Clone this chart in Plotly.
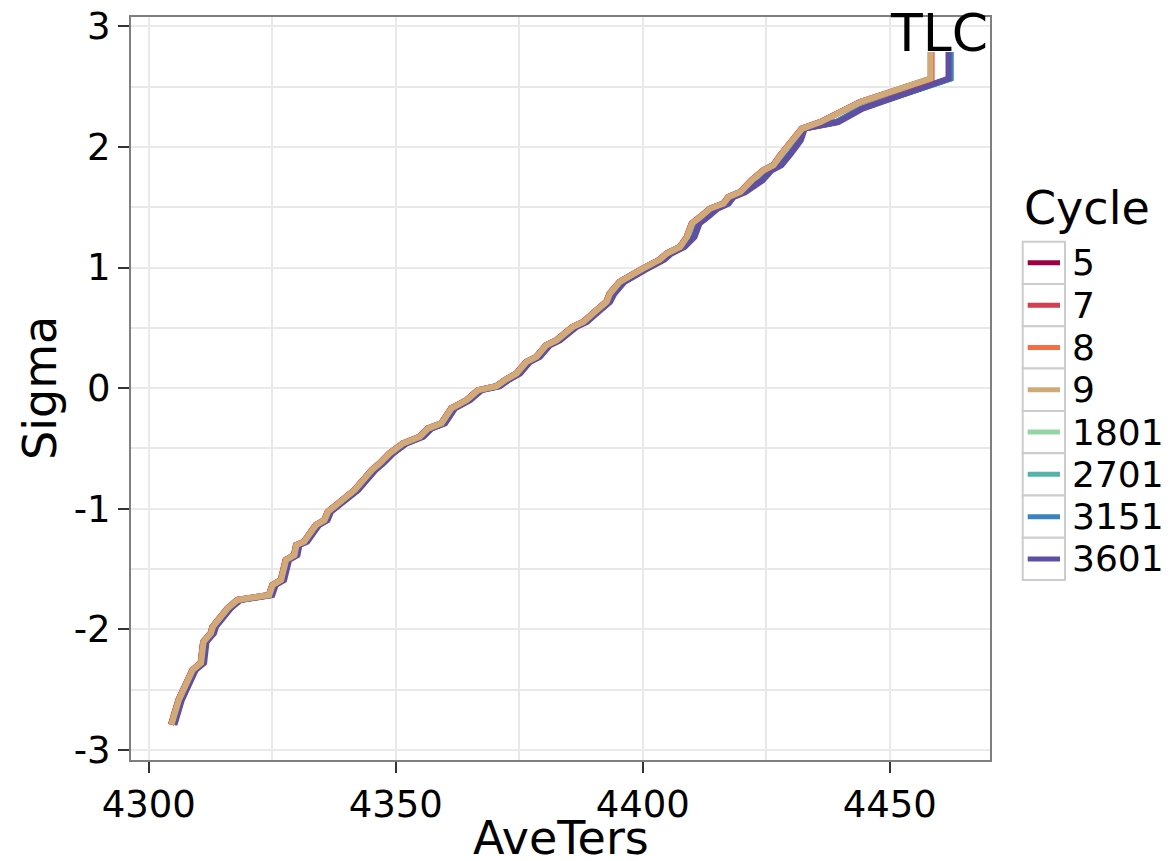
import plotly.graph_objects as go

# normal quantile positions (sigma) shared by every cycle
sigma = [-2.79, -2.585, -2.337, -2.278, -2.102, -2.032, -1.978, -1.825, -1.756, -1.715,
         -1.632, -1.591, -1.425, -1.384, -1.301, -1.273, -1.191, -1.135, -1.094, -1.025,
         -0.969, -0.911, -0.845, -0.746, -0.679, -0.624, -0.541, -0.458, -0.403, -0.334,
         -0.292, -0.168, -0.099, -0.017, 0.017, 0.066, 0.122, 0.218, 0.259, 0.356,
         0.398, 0.508, 0.549, 0.646, 0.715, 0.785, 0.881, 0.978, 1.066, 1.116,
         1.171, 1.254, 1.365, 1.419, 1.489, 1.530, 1.585, 1.626, 1.723, 1.806,
         1.848, 1.944, 2.055, 2.152, 2.206, 2.276, 2.317, 2.372, 2.566, 2.786]

# AveTers for cycles 5, 7, 8 (overlapping, practically identical)
ave_early = [4304.5, 4306.0, 4308.8, 4310.5, 4311.0, 4312.5, 4312.9, 4315.9, 4317.9, 4324.3,
             4325.0, 4326.7, 4327.7, 4329.4, 4329.8, 4331.4, 4332.8, 4333.8, 4335.5, 4336.2,
             4337.9, 4339.6, 4341.6, 4343.7, 4345.1, 4346.7, 4348.7, 4351.4, 4354.8, 4356.5,
             4359.2, 4361.2, 4364.3, 4366.6, 4370.3, 4372.0, 4374.4, 4376.4, 4378.4, 4380.4,
             4382.5, 4385.8, 4387.9, 4390.6, 4392.6, 4393.3, 4395.3, 4399.4, 4403.4, 4404.8,
             4407.5, 4408.9, 4409.9, 4411.6, 4413.6, 4416.3, 4417.3, 4419.7, 4422.0, 4424.4,
             4426.4, 4428.1, 4430.1, 4432.2, 4435.9, 4439.2, 4441.3, 4444.0, 4458.4, 4458.4]

ave_9 = [4304.6, 4306.1, 4308.9, 4310.6, 4311.1, 4312.6, 4313.0, 4316.0, 4318.0, 4324.4,
         4325.1, 4326.8, 4327.8, 4329.5, 4329.9, 4331.5, 4332.9, 4333.9, 4335.6, 4336.3,
         4338.0, 4339.7, 4341.7, 4343.8, 4345.2, 4346.8, 4348.8, 4351.5, 4354.9, 4356.6,
         4359.3, 4361.3, 4364.4, 4366.7, 4370.4, 4372.1, 4374.5, 4376.5, 4378.5, 4380.5,
         4382.6, 4385.9, 4388.0, 4390.7, 4392.7, 4393.4, 4395.4, 4399.5, 4403.5, 4404.9,
         4407.6, 4409.0, 4410.0, 4411.7, 4413.7, 4416.4, 4417.4, 4419.8, 4422.1, 4424.5,
         4426.5, 4428.2, 4430.2, 4432.3, 4436.0, 4439.3, 4441.4, 4444.1, 4458.2, 4458.2]

# AveTers for cycles 1801, 2701, 3151 (hidden under 3601)
ave_late = [4305.0, 4306.5, 4309.3, 4311.0, 4311.5, 4313.0, 4313.4, 4316.4, 4318.4, 4324.8,
            4325.5, 4327.2, 4328.2, 4329.9, 4330.3, 4331.9, 4333.3, 4334.3, 4336.0, 4336.7,
            4338.4, 4340.2, 4342.2, 4344.3, 4345.7, 4347.3, 4349.3, 4352.0, 4355.4, 4357.1,
            4359.8, 4361.8, 4364.9, 4367.2, 4370.9, 4372.6, 4375.0, 4377.0, 4379.0, 4381.0,
            4383.1, 4386.4, 4388.5, 4391.2, 4393.2, 4394.1, 4396.1, 4400.2, 4404.2, 4405.6,
            4408.3, 4410.3, 4411.3, 4413.0, 4415.0, 4417.2, 4418.2, 4420.6, 4424.1, 4425.9,
            4427.9, 4429.8, 4431.8, 4432.6, 4439.2, 4442.3, 4444.2, 4448.1, 4462.3, 4462.3]

ave_3601 = [4305.2, 4306.7, 4309.5, 4311.2, 4311.7, 4313.2, 4313.6, 4316.6, 4318.6, 4325.0,
            4325.7, 4327.4, 4328.4, 4330.1, 4330.5, 4332.1, 4333.5, 4334.5, 4336.2, 4336.9,
            4338.6, 4340.4, 4342.4, 4344.5, 4345.9, 4347.5, 4349.5, 4352.2, 4355.6, 4357.3,
            4360.0, 4362.0, 4365.1, 4367.4, 4371.1, 4372.8, 4375.2, 4377.2, 4379.2, 4381.2,
            4383.3, 4386.6, 4388.7, 4391.4, 4393.4, 4394.3, 4396.3, 4400.4, 4404.4, 4405.8,
            4408.5, 4410.5, 4411.5, 4413.2, 4415.2, 4417.4, 4418.4, 4420.8, 4424.3, 4426.1,
            4428.1, 4430.0, 4432.0, 4432.8, 4439.6, 4442.7, 4444.5, 4448.4, 4461.9, 4461.9]

cycles = ['5', '7', '8', '9', '1801', '2701', '3151', '3601']
colors = ['#9e0142', '#d53e4f', '#f46d43', '#cfab7a', '#93d5a4', '#55b3a8', '#3a83c0', '#5e4fa2']
cycle_x = {'5': ave_early, '7': ave_early, '8': ave_early, '9': ave_9,
           '1801': ave_late, '2701': ave_late, '3151': ave_late, '3601': ave_3601}

x_ticks = [4300, 4350, 4400, 4450]
y_ticks = [-3, -2, -1, 0, 1, 2, 3]
y_labels = ['-3', '-2', '-1', '0', '1', '2', '3']

FONT = 'DejaVu Sans'
W, H = 1174, 861
ML, MR, MT, MB = 131, 184, 17, 101


def px_to_paper(px, py):
    # figure pixels -> paper coordinates of the plot area
    return (px - ML) / (W - ML - MR), (H - MB - py) / (H - MT - MB)


fig = go.Figure()

# later cycles first so cycle 9 ends up on top, like the original
draw_order = ['1801', '2701', '3151', '3601', '5', '7', '8', '9']
for c in draw_order:
    i = cycles.index(c)
    fig.add_trace(go.Scatter(
        x=cycle_x[c], y=sigma,
        mode='lines',
        name=c,
        showlegend=False,
        line=dict(color=colors[i], width=6),
    ))

# ggplot-style legend: one grey-bordered key box per cycle
key_x0, key_x1 = 1022.7, 1065.0
key_top, key_step = 241.7, 42.3
shapes = []
annotations = []
for i, c in enumerate(cycles):
    top = key_top + i * key_step
    bx0, by0 = px_to_paper(key_x0, top + key_step)
    bx1, by1 = px_to_paper(key_x1, top)
    shapes.append(dict(type='rect', xref='paper', yref='paper', x0=bx0, x1=bx1, y0=by0, y1=by1,
                       line=dict(color='#cccccc', width=2), fillcolor='white', layer='above'))
    lx0, ly = px_to_paper(key_x0 + 5, top + key_step / 2)
    lx1, _ = px_to_paper(key_x1 - 5, top)
    shapes.append(dict(type='line', xref='paper', yref='paper', x0=lx0, x1=lx1, y0=ly, y1=ly,
                       line=dict(color=colors[i], width=5), layer='above'))
    tx, _ = px_to_paper(key_x1 + 5, top)
    annotations.append(dict(text=c, xref='paper', yref='paper', x=tx, y=ly,
                            xanchor='left', yanchor='middle', showarrow=False,
                            font=dict(family=FONT, size=36, color='black')))

tx, ty = px_to_paper(1022, 208)
annotations.append(dict(text='Cycle', xref='paper', yref='paper', x=tx, y=ty,
                        xanchor='left', yanchor='middle', showarrow=False,
                        font=dict(family=FONT, size=46, color='black')))

tx, ty = px_to_paper(990, 33)
annotations.append(dict(text='TLC', xref='paper', yref='paper', x=tx, y=ty,
                        xanchor='right', yanchor='middle', showarrow=False,
                        font=dict(family=FONT, size=52, color='black')))

# axis titles placed by hand so they sit where ggplot put them
tx, ty = px_to_paper(560.5, 838)
annotations.append(dict(text='AveTers', xref='paper', yref='paper', x=tx, y=ty,
                        xanchor='center', yanchor='middle', showarrow=False, height=40,
                        font=dict(family=FONT, size=46, color='black')))
tx, ty = px_to_paper(40, 388)
annotations.append(dict(text='Sigma', xref='paper', yref='paper', x=tx, y=ty, textangle=-90,
                        xanchor='center', yanchor='middle', showarrow=False,
                        font=dict(family=FONT, size=46, color='black')))

axis_style = dict(
    showline=True, mirror=True, linecolor='#7f7f7f', linewidth=2,
    ticks='outside', ticklen=11, tickwidth=2, tickcolor='#333333',
    gridcolor='#ebebeb', gridwidth=1, zeroline=False, automargin=False,
    tickfont=dict(family=FONT, size=37, color='black'),
)

fig.update_xaxes(
    range=[4296.4, 4470.3], tickvals=x_ticks,
    minor=dict(dtick=25, tick0=4275, showgrid=True, gridcolor='#e8e8e8', gridwidth=2, ticks=''),
    **axis_style
)
fig.update_yaxes(
    range=[-3.083, 3.077], tickvals=y_ticks, ticktext=y_labels,
    minor=dict(dtick=0.5, tick0=-3.5, showgrid=True, gridcolor='#e8e8e8', gridwidth=2, ticks=''),
    ticklabelstandoff=0,
    **axis_style
)

fig.update_layout(
    width=W, height=H,
    margin=dict(l=ML, r=MR, t=MT, b=MB),
    plot_bgcolor='white', paper_bgcolor='white',
    font=dict(family=FONT, color='black'),
    showlegend=False,
    shapes=shapes,
    annotations=annotations,
)

# drop the browser's default body margin so the figure fills the window
fig.write_html("out.html", config={'displayModeBar': False},
               post_script="document.body.style.margin='0';")
